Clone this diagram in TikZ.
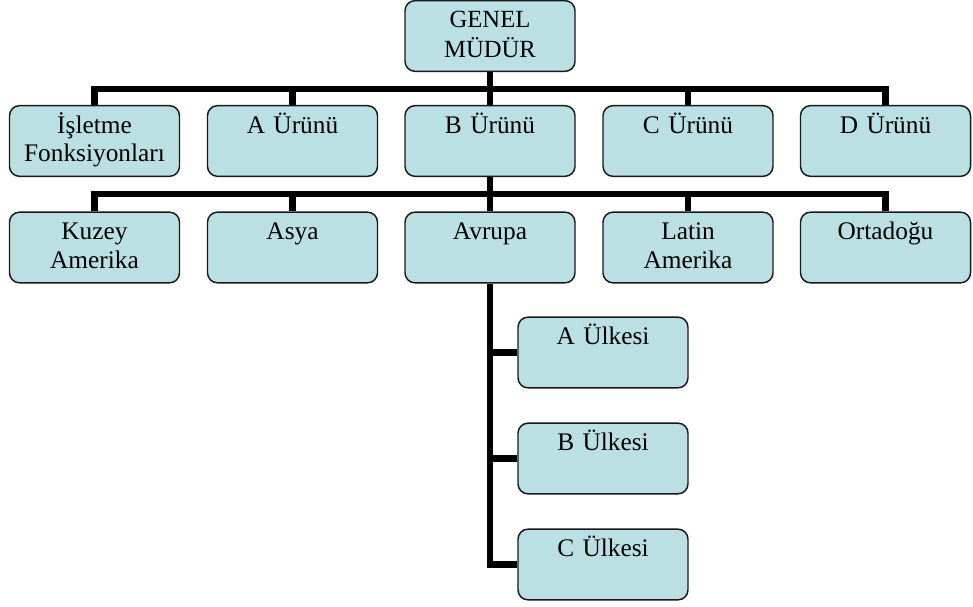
\documentclass[tikz,border=0pt]{standalone}
\usepackage{fontspec}
\setmainfont{Liberation Serif}
\begin{document}
\definecolor{boxfill}{RGB}{186,224,227}
\definecolor{boxline}{RGB}{25,25,25}
\begin{tikzpicture}[x=0.75pt,y=-0.75pt,
  orgbox/.style={draw=boxline, line width=1.1pt, fill=boxfill,
    rounded corners=7.5pt, minimum width=127.5pt, minimum height=53pt,
    inner xsep=0pt, inner ysep=0pt, text width=127.5pt, align=center,
    text height=20.5pt, text depth=32.5pt,
    font=\fontsize{19}{21.5}\selectfont},
  link/.style={line width=5pt, line join=miter}]
\useasboundingbox (0,0) rectangle (973,606);

% top level
\node[orgbox, font=\fontsize{18.5}{22.5}\selectfont] (gm) at (490,36) {GENEL\\MÜDÜR};

% product level
\node[orgbox] (isl) at (94.5,141) {İşletme\\Fonksiyonları};
\node[orgbox] (au)  at (292.5,141) {A Ürünü};
\node[orgbox] (bu)  at (490,141) {B Ürünü};
\node[orgbox] (cu)  at (688,141) {C Ürünü};
\node[orgbox] (du)  at (885.5,141) {D Ürünü};

% regions under B
\node[orgbox] (kam) at (94.5,247.5) {Kuzey\\Amerika};
\node[orgbox] (asy) at (292.5,247.5) {Asya};
\node[orgbox] (avr) at (490,247.5) {Avrupa};
\node[orgbox] (lam) at (688,247.5) {Latin\\Amerika};
\node[orgbox] (ort) at (885.5,247.5) {Ortadoğu};

% countries under Avrupa
\node[orgbox] (ua) at (603,352.5) {A Ülkesi};
\node[orgbox] (ub) at (603,458.5) {B Ülkesi};
\node[orgbox] (uc) at (603,564.5) {C Ülkesi};

% bus junctions
\coordinate (j1) at (490,89);
\coordinate (j2) at (490,194);

% connectors
\draw[link] (gm.south) -- (j1);
\foreach \c in {isl,au,bu,cu,du} \draw[link] (\c.north) |- (j1);
\draw[link] (bu.south) -- (j2);
\foreach \c in {kam,asy,avr,lam,ort} \draw[link] (\c.north) |- (j2);
\foreach \c in {ua,ub,uc} \draw[link] (avr.south) |- (\c.west);
\end{tikzpicture}
\end{document}
